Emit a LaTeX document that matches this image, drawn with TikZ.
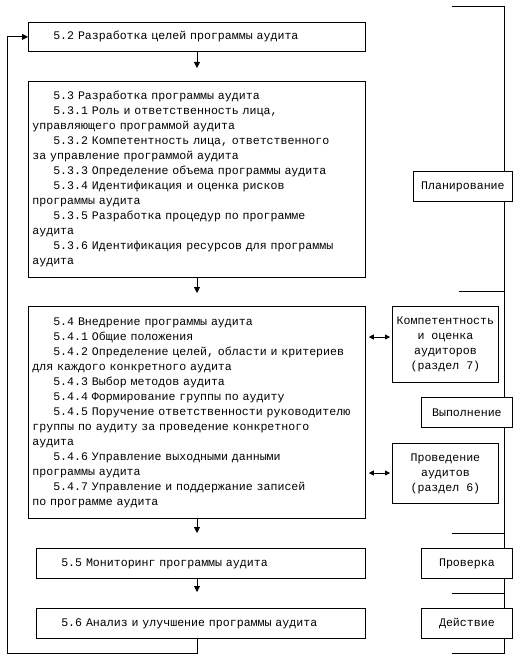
\documentclass[tikz,border=0pt]{standalone}
\usepackage{fontspec}
\newfontfamily\cournew{Liberation Mono}
\usetikzlibrary{arrows.meta}
\newcommand\ind{\phantom{000}}

\tikzset{
  stage/.style={draw, line width=0.8pt, fill=white, anchor=north west,
    inner xsep=4pt, inner ysep=0pt, align=left,
    font=\cournew\fontsize{11.6}{15}\selectfont},
  phase/.style={draw, line width=0.8pt, fill=white, anchor=north west,
    inner sep=0pt, align=center,
    font=\cournew\fontsize{11.6}{15}\selectfont}
}

\begin{document}
\begin{tikzpicture}[x=1pt,y=-1pt,line width=0.8pt,>={Triangle[length=6pt,width=6pt]}]
  \useasboundingbox (0,0) rectangle (519,663);

  % bracket on the right
  \coordinate (top) at (504,6);
  \coordinate (bot) at (504,653);
  \draw (452,6) -- (top) -- (bot) -- (452,653);
  \draw (459,291) -- (504,291);
  \draw (452,533) -- (504,533);
  \draw (452,593) -- (504,593);

  % main stages
  \node[stage, text width=329pt, minimum height=29pt] (s52) at (28,22)
    {\ind 5.2 Разработка целей программы аудита};
  \node[stage, text width=329pt, minimum height=196pt] (s53) at (28,81)
    {\ind 5.3 Разработка программы аудита\\
     \ind 5.3.1 Роль и ответственность лица,\\
     управляющего программой аудита\\
     \ind 5.3.2 Компетентность лица, ответственного\\
     за управление программой аудита\\
     \ind 5.3.3 Определение объема программы аудита\\
     \ind 5.3.4 Идентификация и оценка рисков\\
     программы аудита\\
     \ind 5.3.5 Разработка процедур по программе\\
     аудита\\
     \ind 5.3.6 Идентификация ресурсов для программы\\
     аудита};
  \node[stage, text width=329pt, minimum height=212pt] (s54) at (28,306)
    {\ind 5.4 Внедрение программы аудита\\
     \ind 5.4.1 Общие положения\\
     \ind 5.4.2 Определение целей, области и критериев\\
     для каждого конкретного аудита\\
     \ind 5.4.3 Выбор методов аудита\\
     \ind 5.4.4 Формирование группы по аудиту\\
     \ind 5.4.5 Поручение ответственности руководителю\\
     группы по аудиту за проведение конкретного\\
     аудита\\
     \ind 5.4.6 Управление выходными данными\\
     программы аудита\\
     \ind 5.4.7 Управление и поддержание записей\\
     по программе аудита};
  \node[stage, text width=321pt, minimum height=30pt] (s55) at (36,548)
    {\ind 5.5 Мониторинг программы аудита};
  \node[stage, text width=321pt, minimum height=30pt] (s56) at (36,608)
    {\ind 5.6 Анализ и улучшение программы аудита};

  % phases and side boxes
  \node[phase, minimum width=99pt, minimum height=30pt] (plan) at (413,171) {Планирование};
  \node[phase, minimum width=106pt, minimum height=76pt] (comp) at (392,306)
    {Компетентность\\и оценка\\аудиторов\\(раздел 7)};
  \node[phase, minimum width=91pt, minimum height=30pt] (do) at (421,397) {Выполнение};
  \node[phase, minimum width=106pt, minimum height=60pt] (cond) at (392,443)
    {Проведение\\аудитов\\(раздел 6)};
  \node[phase, minimum width=91pt, minimum height=30pt] (check) at (421,548) {Проверка};
  \node[phase, minimum width=91pt, minimum height=30pt] (act) at (421,608) {Действие};

  % flow
  \coordinate (col) at (197,0);
  \path[->]
    (s52.south -| col) edge [shorten >=13pt] (s53.north -| col)
    (s53.south -| col) edge [shorten >=13pt] (s54.north -| col)
    (s54.south -| col) edge [shorten >=15pt] (s55.north -| col)
    (s55.south -| col) edge [shorten >=16pt] (s56.north -| col);
  \coordinate (back) at (7,653);
  \draw[->] (s56.south -| col) |- (back) |- (s52.west);

  \coordinate (lnk7) at (0,337);
  \coordinate (lnk6) at (0,473);
  \path[<->,>={Triangle[length=5pt,width=5pt]}]
    (s54.east |- lnk7) edge [shorten <=3pt, shorten >=2pt] (comp.west |- lnk7)
    (s54.east |- lnk6) edge [shorten <=3pt, shorten >=2pt] (cond.west |- lnk6);
\end{tikzpicture}
\end{document}
